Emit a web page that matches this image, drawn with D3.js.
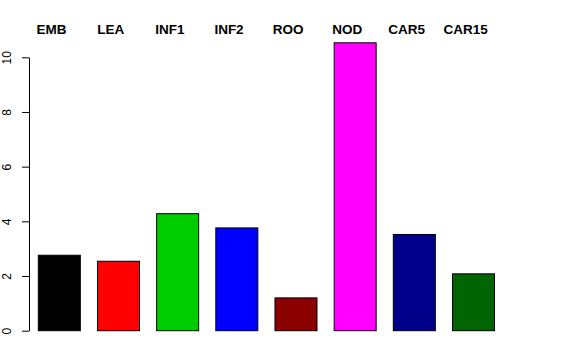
<!DOCTYPE html>
<html>
<head>
<meta charset="utf-8">
<script src="https://cdn.jsdelivr.net/npm/d3@7"></script>
<style>
  body { margin: 0; background: #fff; }
  svg { display: block; }
  text { font-family: "Liberation Sans", Arial, sans-serif; }
</style>
</head>
<body>
<svg id="chart" width="576" height="360"></svg>
<script>
const categories = ["EMB", "LEA", "INF1", "INF2", "ROO", "NOD", "CAR5", "CAR15"]
const values = [2.76, 2.54, 4.28, 3.76, 1.2, 10.53, 3.52, 2.08]
const barColors = ["#000000", "#ff0000", "#00cd00", "#0000ff", "#8b0000", "#ff00ff", "#00008b", "#006400"]
const yTicks = [0, 2, 4, 6, 8, 10]

const svg = d3.select("#chart")

// plot region as R draws it
const x = d3.scaleBand()
    .domain(categories)
    .range([38.3, 494.5])
    .paddingInner(0.29)
    .paddingOuter(0)

const y = d3.scaleLinear().domain([0, 10]).range([330.7, 57.3])

// bars
svg.append("g")
  .selectAll("rect")
  .data(categories)
  .enter().append("rect")
    .attr("x", d => x(d))
    .attr("y", (d, i) => y(values[i]))
    .attr("width", x.bandwidth())
    .attr("height", (d, i) => y(0) - y(values[i]))
    .attr("fill", (d, i) => barColors[i])
    .attr("stroke", "#000")
    .attr("stroke-width", 1)

// y axis
const axis = svg.append("g")
    .attr("transform", "translate(29,0)")
    .call(d3.axisLeft(y).tickValues(yTicks).tickSize(7).tickSizeOuter(0))

axis.select(".domain").attr("stroke", "#000")
axis.selectAll(".tick line").attr("stroke", "#000")
axis.selectAll(".tick text")
    .attr("x", null)
    .attr("dy", null)
    .attr("text-anchor", "middle")
    .attr("transform", "translate(-18,0) rotate(-90)")
    .attr("fill", "#000")
    .style("font-size", "12px")
    .style("font-family", "Liberation Sans, Arial, sans-serif")

// category labels on top
svg.append("g")
  .selectAll("text")
  .data(categories)
  .enter().append("text")
    .attr("x", d => x(d) + x.bandwidth() / 2 - 7.8)
    .attr("y", 34)
    .attr("text-anchor", "middle")
    .style("font-weight", "bold")
    .style("font-size", "13.5px")
    .text(d => d)
</script>
</body>
</html>
